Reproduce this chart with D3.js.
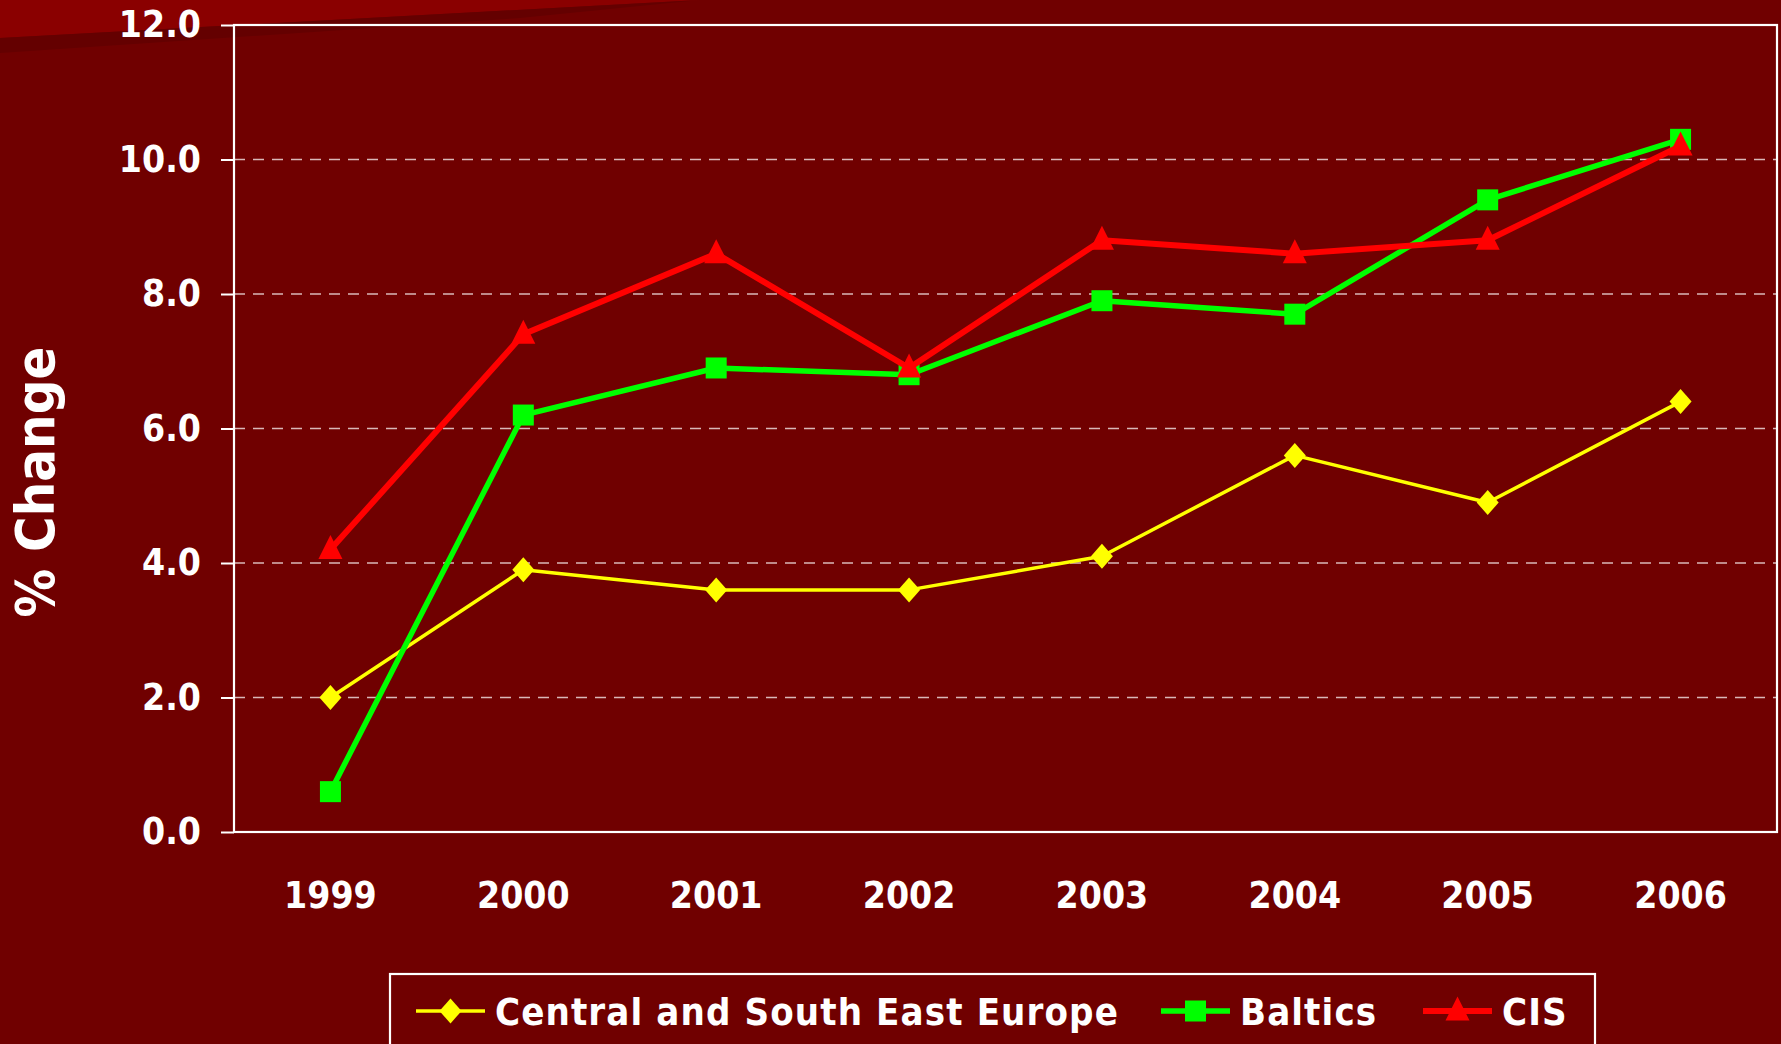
<!DOCTYPE html>
<html><head><meta charset="utf-8">
<script src="https://cdn.jsdelivr.net/npm/d3@7"></script>
<style>
html,body{margin:0;padding:0;background:#700000;overflow:hidden;}
svg{display:block;}
text{font-family:"DejaVu Sans Condensed","DejaVu Sans",sans-serif;font-stretch:condensed;font-weight:bold;fill:#fff;}
</style></head>
<body>
<svg id="chart" width="1781" height="1044"></svg>
<script>
const years = ["1999","2000","2001","2002","2003","2004","2005","2006"];
const cseeValues = [2.0, 3.9, 3.6, 3.6, 4.1, 5.6, 4.9, 6.4];
const balticsValues = [0.6, 6.2, 6.9, 6.8, 7.9, 7.7, 9.4, 10.3];
const cisValues = [4.2, 7.4, 8.6, 6.9, 8.8, 8.6, 8.8, 10.2];
const seriesNames = ["Central and South East Europe", "Baltics", "CIS"];
const yTicks = [0, 2, 4, 6, 8, 10, 12];
const yTitle = "% Change";

(function () {
const W = 1781, H = 1044;
const svg = d3.select("#chart");
const pLeft = 234, pRight = 1777, pTop = 25, pBottom = 832;

// background decoration
svg.append("rect").attr("width", W).attr("height", H).attr("fill", "#700000");
svg.append("polygon").attr("points", "0,0 700,0 0,38").attr("fill", "#8a0000");
svg.append("polygon").attr("points", "0,38 700,0 520,18 0,53").attr("fill", "#640000");

const x = d3.scaleBand().domain(years).range([pLeft, pRight]);
const y = d3.scaleLinear().domain([0, 12]).range([pBottom, pTop]);

// gridlines
svg.append("g").selectAll("line").data(yTicks.filter(t => t > 0 && t < 12)).join("line")
  .attr("x1", pLeft).attr("x2", pRight)
  .attr("y1", d => y(d)).attr("y2", d => y(d))
  .attr("stroke", "#d9b8b8").attr("stroke-width", 1.6).attr("stroke-dasharray", "11,8");

// y axis
const yAxis = d3.axisLeft(y).tickValues(yTicks).tickFormat(d3.format(".1f")).tickSize(13).tickPadding(20);
const gy = svg.append("g").attr("transform", `translate(${pLeft},0)`).call(yAxis);
gy.select(".domain").remove();
gy.selectAll(".tick line").attr("stroke", "#fff").attr("stroke-width", 2);
gy.selectAll(".tick text").attr("font-size", 37).attr("fill", "#fff")
  .attr("font-family", '"DejaVu Sans Condensed","DejaVu Sans",sans-serif');

// x axis
const gx = svg.append("g").attr("transform", `translate(0,${pBottom})`).call(d3.axisBottom(x).tickSize(0).tickPadding(50));
gx.select(".domain").remove();
gx.selectAll(".tick text").attr("font-size", 37).attr("fill", "#fff")
  .attr("font-family", '"DejaVu Sans Condensed","DejaVu Sans",sans-serif');

// plot frame
svg.append("rect").attr("x", pLeft).attr("y", pTop).attr("width", pRight - pLeft).attr("height", pBottom - pTop)
  .attr("fill", "none").attr("stroke", "#fff").attr("stroke-width", 2.2);

// y title
svg.append("text").attr("transform", "translate(54,482) rotate(-90)")
  .attr("text-anchor", "middle").attr("font-size", 54).text(yTitle);

const series = [
  {name: seriesNames[0], values: cseeValues, color: "#ffff00", width: 3.5, sym: "diamond"},
  {name: seriesNames[1], values: balticsValues, color: "#00ff00", width: 5.5, sym: "square"},
  {name: seriesNames[2], values: cisValues, color: "#ff0000", width: 6, sym: "triangle"}
];

function markerPath(sym) {
  if (sym === "diamond") return "M0,-12.5L11,0L0,12.5L-11,0Z";
  if (sym === "square") return "M-10.5,-10.5H10.5V10.5H-10.5Z";
  return "M0,-14.5L12,9.5H-12Z";
}

const line = d3.line().x((d, i) => x(years[i]) + x.bandwidth() / 2).y(d => y(d));
series.forEach(s => {
  const g = svg.append("g");
  g.append("path").datum(s.values).attr("d", line).attr("fill", "none")
    .attr("stroke", s.color).attr("stroke-width", s.width).attr("stroke-linejoin", "round");
  g.selectAll("path.m").data(s.values).join("path").attr("class", "m")
    .attr("d", markerPath(s.sym))
    .attr("transform", (d, i) => `translate(${x(years[i]) + x.bandwidth() / 2},${y(d)})`)
    .attr("fill", s.color);
});

// legend
const lg = svg.append("g");
lg.append("rect").attr("x", 390).attr("y", 974).attr("width", 1205).attr("height", 100)
  .attr("fill", "#700000").attr("stroke", "#fff").attr("stroke-width", 2.2);
const legendX = [416, 1161, 1423];
const ly = 1011;
series.forEach((s, i) => {
  const gx0 = legendX[i];
  lg.append("line").attr("x1", gx0).attr("x2", gx0 + 69).attr("y1", ly).attr("y2", ly)
    .attr("stroke", s.color).attr("stroke-width", s.width);
  lg.append("path").attr("d", markerPath(s.sym)).attr("transform", `translate(${gx0 + 34.5},${ly})`).attr("fill", s.color);
  lg.append("text").attr("x", gx0 + 79).attr("y", ly + 14).attr("font-size", 38)
    .attr("letter-spacing", 1.1).text(s.name);
});
})();
</script>
</body></html>
